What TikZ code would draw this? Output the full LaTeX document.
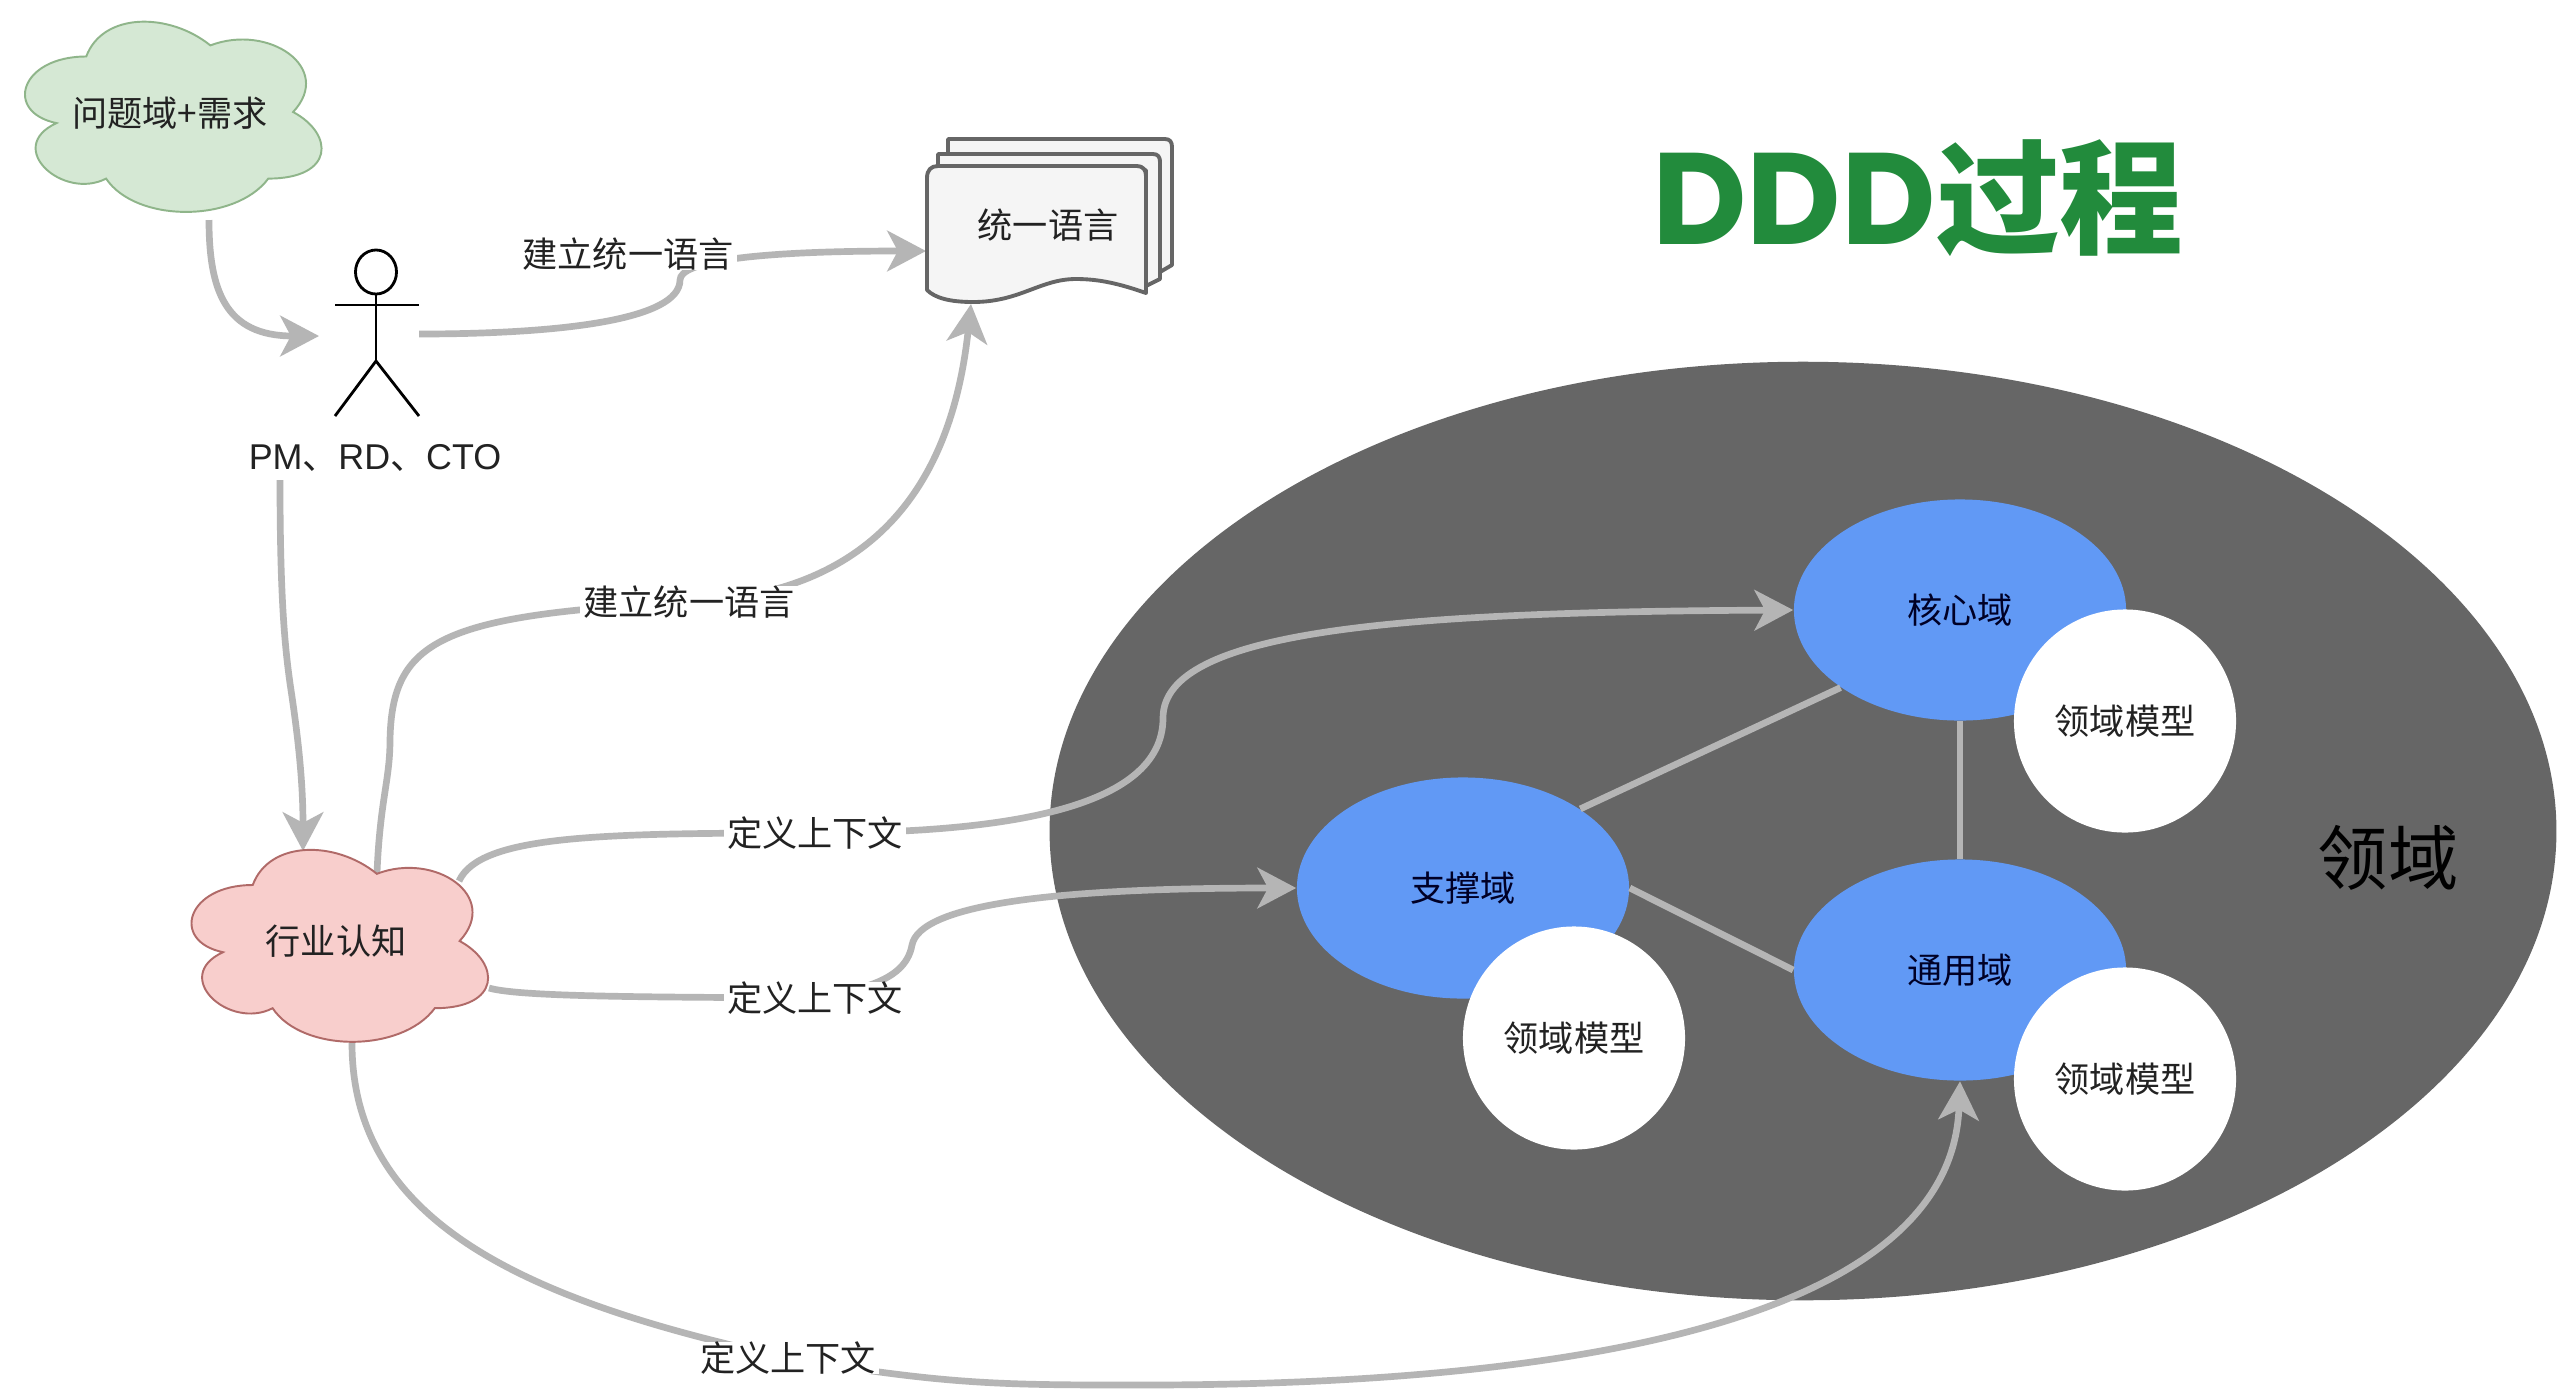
\documentclass[tikz,border=0pt]{standalone}
\usepackage{fontspec}
\usetikzlibrary{shapes.geometric,arrows.meta,calc}
\setmainfont{Noto Sans CJK SC}
\newfontfamily\latfont{Liberation Sans}
\newfontfamily\popfont{Poppins}
\definecolor{conn}{HTML}{B5B5B5}
\definecolor{dark}{HTML}{666666}
\definecolor{blu}{HTML}{6199F5}
\definecolor{ttl}{HTML}{228B3C}
\definecolor{txt}{HTML}{222222}
\definecolor{gfill}{HTML}{D5E8D4}
\definecolor{gline}{HTML}{8FB58A}
\definecolor{pfill}{HTML}{F8CECC}
\definecolor{pline}{HTML}{B06A68}
\pgfdeclarelayer{bgl}
\pgfdeclarelayer{connl}
\pgfsetlayers{bgl,connl,main}
\tikzset{
  flow/.style={draw=conn,line width=1.9pt,-{Stealth[length=11pt,width=11.5pt,inset=3pt]}},
  link/.style={draw=conn,line width=1.9pt},
  lab/.style={fill=white,inner xsep=1pt,inner ysep=0pt,font=\fontsize{10}{12}\selectfont,text=txt},
  plain/.style={inner sep=0pt,font=\fontsize{10}{12}\selectfont,text=txt},
  dom/.style={ellipse,fill=blu,inner sep=0pt,minimum width=3.32cm,minimum height=2.21cm,font=\fontsize{10}{12}\selectfont,text=black!85!blue},
  model/.style={ellipse,fill=white,inner sep=0pt,minimum width=2.22cm,minimum height=2.23cm,font=\fontsize{10}{12}\selectfont,text=txt},
  page/.style={draw=dark,line width=1.1pt,fill=black!4,line join=round},
  stick/.style={draw=black,line width=0.8pt},
}
\newcommand{\cloudshape}[6]{%
  \begin{scope}[shift={(#1,#2)},xscale=#3,yscale=#4]
    \path[fill=#5,draw=#6,line width=0.55pt]
      (0.25,0.25) .. controls (0.05,0.25) and (0,0.5) .. (0.16,0.55)
      .. controls (0,0.66) and (0.18,0.9) .. (0.31,0.8)
      .. controls (0.4,1) and (0.7,1) .. (0.8,0.8)
      .. controls (1,0.8) and (1,0.6) .. (0.875,0.5)
      .. controls (1,0.3) and (0.8,0.1) .. (0.625,0.2)
      .. controls (0.5,0.05) and (0.3,0.05) .. (0.25,0.25) -- cycle;
  \end{scope}}
\begin{document}
\begin{tikzpicture}[x=0.01cm,y=-0.01cm]
\useasboundingbox (0,0) rectangle (2560,1390);
\begin{pgfonlayer}{bgl}
\fill[white] (0,0) rectangle (2560,1390);
\end{pgfonlayer}

% clouds
\cloudshape{3.5}{1}{331}{222}{gfill}{gline}
\node[plain] (green) at (170,113) {问题域+需求};
\cloudshape{170}{829}{331}{224}{pfill}{pline}
\node[plain] (pink) at (336,941) {行业认知};

% document stack
\path[page] (948,139) -- (1165,139) .. controls (1170,139) and (1172,142) .. (1172,147) -- (1172,265) -- (1160,272) -- (1160,160) -- (948,154) -- cycle;
\path[page] (938,154) -- (1153,154) .. controls (1158,154) and (1160,157) .. (1160,162) -- (1160,279) -- (1146,286) -- (1146,170) -- (938,166) -- cycle;
\path[page] (938,166) -- (1137,166) .. controls (1143,166) and (1146,170) .. (1146,176) -- (1146,293)
  .. controls (1120,284) and (1100,279) .. (1076,279)
  .. controls (1040,279) and (1020,302) .. (973,302)
  .. controls (950,302) and (935,298) .. (927,290) -- (927,178)
  .. controls (927,170) and (931,166) .. (938,166) -- cycle;
\node[plain] (doc) at (1048,225) {统一语言};

% person
\node[draw=black,line width=0.8pt,ellipse,inner sep=0pt,minimum width=0.41cm,minimum height=0.44cm] (head) at (376,272) {};
\coordinate (hip) at (376,361);
\coordinate (armL) at (335,305);
\coordinate (armR) at (419,305);
\coordinate (footL) at (335,416);
\coordinate (footR) at (419,416);
\draw[stick] (head.south) -- (hip);
\draw[stick] (armL) -- (armR);
\draw[stick] (footL) -- (hip) -- (footR);
\node[plain,font=\fontsize{10.2}{12}\selectfont] (pm) at (375,458) {\latfont PM\rmfamily、\latfont RD\rmfamily、\latfont CTO};

% labels
\node[lab] (l1) at (628,254) {建立统一语言};
\node[lab] (l2) at (689,602) {建立统一语言};
\node[lab] (l3) at (815,833) {定义上下文};
\node[lab] (l4) at (815,998) {定义上下文};
\node[lab] (l5) at (788,1358) {定义上下文};

% title and domain
\node[inner sep=0pt,text=ttl,font=\bfseries] (title) at (1918,198) {\fontsize{37}{40}\selectfont\popfont\bfseries DDD\rmfamily\bfseries\fontsize{35.2}{40}\selectfont 过程};
\begin{pgfonlayer}{bgl}
\node[ellipse,fill=dark,inner sep=0pt,minimum width=15.06cm,minimum height=9.38cm] (domain) at (1803,831) {};
\end{pgfonlayer}
\node[inner sep=0pt,font=\fontsize{20}{24}\selectfont,text=black] (ly) at (2388,858) {领域};
\node[dom] (core) at (1960,610) {核心域};
\node[dom] (support) at (1463,888) {支撑域};
\node[dom] (general) at (1960,970) {通用域};
\node[model] (m1) at (2125,721) {领域模型};
\node[model] (m2) at (1574,1038) {领域模型};
\node[model] (m3) at (2125,1079) {领域模型};

% ports
\coordinate (greenout) at (209,220);
\coordinate (personin) at (319,336);
\coordinate (personout) at (419,334);
\coordinate (docin) at (926,251);
\coordinate (docbot) at (971,304);
\coordinate (pmout) at (280,480);
\coordinate (pinktop) at (377,873);
\coordinate (pinkin) at (303,851);
\coordinate (pinkne) at (459,881);
\coordinate (pinke) at (489,988);
\coordinate (pinks) at (352,1043);

\begin{pgfonlayer}{connl}
\draw[flow] (greenout) .. controls (209,290) and (225,336) .. (personin);
\draw[flow] (personout) .. controls (560,334) and (680,320) .. (680,280) .. controls (680,262) and (750,251) .. (docin);
\draw[flow] (pinktop) .. controls (380,800) and (390,780) .. (390,740) .. controls (392,640) and (440,615) .. (l2.center) .. controls (860,595) and (950,500) .. (docbot);
\draw[flow] (pmout) .. controls (280,600) and (285,650) .. (291,690) .. controls (300,750) and (303,790) .. (pinkin);
\draw[flow] (pinkne) .. controls (480,835) and (600,833) .. (l3.center) .. controls (1000,833) and (1163,810) .. (1163,718) .. controls (1163,630) and (1400,612) .. (core.west);
\draw[flow] (pinke) .. controls (520,997) and (650,997) .. (l4.center) .. controls (850,990) and (905,985) .. (912,945) .. controls (920,905) and (1050,888) .. (support.west);
\draw[flow] (pinks) .. controls (352,1220) and (520,1300) .. (l5.center) .. controls (950,1385) and (1000,1385) .. (1143,1385) .. controls (1500,1385) and (1950,1340) .. (general.south);
\end{pgfonlayer}
\draw[link] (core.213.7) -- (support.34);
\draw[link] (core.south) -- (general.north);
\draw[link] (support.east) -- (general.west);
\end{tikzpicture}
\end{document}
